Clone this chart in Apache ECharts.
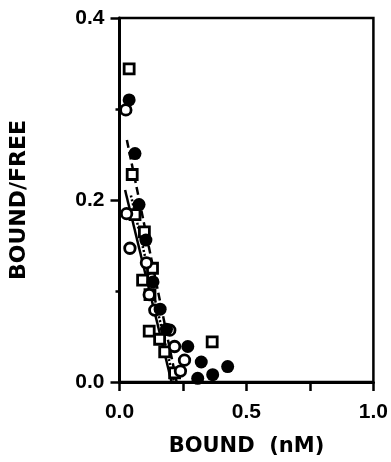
<!DOCTYPE html>
<html>
<head>
<meta charset="utf-8">
<script src="https://cdn.jsdelivr.net/npm/echarts@6/dist/echarts.min.js"></script>
<style>html,body{margin:0;padding:0;background:#fff;}#c{width:391px;height:462px;}</style>
</head>
<body>
<div id="c"></div>
<script>
// Bound (nM) vs Bound/Free
const squares = [[0.038,0.344],[0.050,0.228],[0.061,0.184],[0.098,0.165],[0.130,0.125],[0.091,0.112],[0.120,0.096],[0.117,0.056],[0.158,0.047],[0.178,0.033],[0.217,0.010],[0.365,0.044]];
const filledCircles = [[0.038,0.310],[0.061,0.251],[0.077,0.195],[0.104,0.156],[0.132,0.110],[0.160,0.080],[0.185,0.058],[0.269,0.039],[0.322,0.022],[0.308,0.004],[0.367,0.008],[0.426,0.017]];
const openCircles = [[0.025,0.299],[0.028,0.185],[0.041,0.147],[0.106,0.131],[0.117,0.096],[0.139,0.079],[0.198,0.057],[0.217,0.039],[0.256,0.024],[0.240,0.012]];
const fitDashed = [[0.029,0.266],[0.225,0.0]];
const fitSolid = [[0.022,0.211],[0.205,0.0]];
const fitDotted = [[0.045,0.205],[0.215,0.0]];
const xTicks = [0, 0.5, 1.0];
const yTicks = [0, 0.2, 0.4];

const chart = echarts.init(document.getElementById('c'), null, {renderer:'canvas'});
const tickFont = {fontFamily:'Liberation Sans', fontWeight:'bold', fontSize:21, color:'#000'};
chart.setOption({
  animation:false,
  backgroundColor:'#fff',
  grid:{left:119.5, right:16, top:18, bottom:80, show:true, borderColor:'#000', borderWidth:2.5, backgroundColor:'transparent'},
  xAxis:{type:'value', min:xTicks[0], max:xTicks[2], interval:0.5,
    name:'BOUND  (nM)', nameLocation:'middle', nameGap:54,
    nameTextStyle:{fontFamily:'DejaVu Sans', fontWeight:'bold', fontSize:21, color:'#000'},
    axisLine:{lineStyle:{color:'#000', width:3}},
    axisTick:{length:9, lineStyle:{color:'#000', width:2.5}},
    minorTick:{show:true, splitNumber:2, length:9, lineStyle:{color:'#000', width:2.5}},
    axisLabel:Object.assign({margin:20, formatter:v=>v.toFixed(1)}, tickFont),
    splitLine:{show:false}},
  yAxis:{type:'value', min:yTicks[0], max:yTicks[2], interval:0.2,
    name:'BOUND/FREE', nameLocation:'middle', nameGap:89, nameRotate:90,
    nameTextStyle:{fontFamily:'DejaVu Sans', fontWeight:'bold', fontSize:22, color:'#000'},
    axisLine:{lineStyle:{color:'#000', width:3}},
    axisTick:{length:9, lineStyle:{color:'#000', width:2.5}},
    minorTick:{show:true, splitNumber:2, length:4, lineStyle:{color:'#000', width:2.5}},
    axisLabel:Object.assign({margin:15, formatter:v=>v.toFixed(1)}, tickFont),
    splitLine:{show:false}},
  series:[
    {type:'line', data:fitDashed, symbol:'none', lineStyle:{color:'#000', width:2.5, type:[8,4]}, z:2},
    {type:'line', data:fitSolid, symbol:'none', lineStyle:{color:'#000', width:2.5}, z:2},
    {type:'line', data:fitDotted, symbol:'none', lineStyle:{color:'#000', width:2.5, type:[2,2]}, z:2},
    {type:'scatter', data:squares, symbol:'rect', symbolSize:10, itemStyle:{color:'#fff', borderColor:'#000', borderWidth:2.8, opacity:1}, z:3},
    {type:'scatter', data:openCircles, symbol:'circle', symbolSize:10.5, itemStyle:{color:'#fff', borderColor:'#000', borderWidth:2.8, opacity:1}, z:3},
    {type:'scatter', data:filledCircles, symbol:'circle', symbolSize:13, itemStyle:{color:'#000', borderWidth:0, opacity:1}, z:4}
  ]
});
</script>
</body>
</html>
